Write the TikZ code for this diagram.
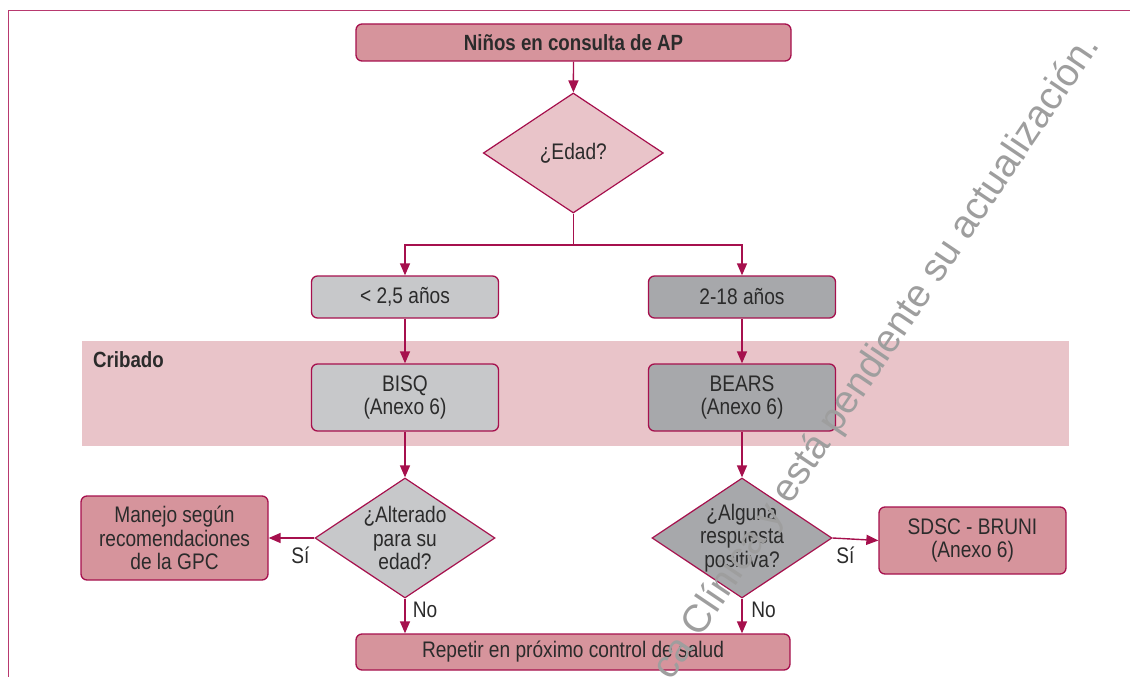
\documentclass[tikz,border=0pt]{standalone}
\usepackage{fontspec}
\setmainfont{Liberation Sans}[FakeStretch=0.85]
\newfontfamily\wmfont{Liberation Sans}
\usetikzlibrary{shapes.geometric,arrows.meta}
\definecolor{crim}{HTML}{A6104D}
\definecolor{framec}{HTML}{B8396F}
\definecolor{pinkbox}{HTML}{D6949C}
\definecolor{pinklight}{HTML}{E9C4C9}
\definecolor{graylight}{HTML}{C7C8CA}
\definecolor{graydark}{HTML}{A7A8AB}
\definecolor{txt}{HTML}{2B2B2B}
\definecolor{wmgray}{HTML}{9E9E9E}
\tikzset{
  box/.style={draw=crim, line width=1.3pt, rounded corners=6pt, minimum width=187pt,
    align=center, inner sep=0pt, text=txt},
  dia/.style={diamond, draw=crim, line width=1.2pt, minimum width=180pt,
    minimum height=120pt, inner sep=0pt},
  conn/.style={draw=crim, line width=1.4pt},
  arr/.style={conn, -{Triangle[length=12pt,width=10pt]}},
  lbl/.style={text=txt, inner sep=0pt},
  dtext/.style={align=center, text=txt, inner sep=0pt},
}
\begin{document}
\begin{tikzpicture}[x=1pt, y=-1pt, font=\fontsize{22.5}{23.5}\selectfont]
\useasboundingbox (0,0) rectangle (1130,677);
% frame
\draw[framec, line width=1pt] (8.5,677) -- (8.5,11) -- (1130,11);
% band
\node[fill=pinklight, minimum width=987pt, minimum height=104.5pt, inner sep=0pt,
  anchor=north west] (band) at (82,341) {};
\node[lbl, anchor=base west, font=\fontsize{22}{23.5}\selectfont\bfseries] (crib) at (93,367) {Cribado};
% nodes
\node[box, fill=pinkbox, minimum width=435pt, minimum height=37pt,
  font=\fontsize{22}{23.5}\selectfont\bfseries] (start) at (573.5,42.5) {Niños en consulta de AP};
\node[dia, fill=pinklight] (edad) at (573.3,153) {};
\node[dtext] (edadt) at (edad.center) {¿Edad?};
\node[box, fill=graylight, minimum height=42pt] (young) at (405,297) {< 2,5 años};
\node[box, fill=graydark, minimum height=42pt] (old) at (742,297) {2-18 años};
\node[box, fill=graylight, minimum height=67pt] (bisq) at (405,397.5) {BISQ\\(Anexo 6)};
\node[box, fill=graydark, minimum height=67pt] (bears) at (742,397.5) {BEARS\\(Anexo 6)};
\node[dia, fill=graylight] (alt) at (405,538) {};
\node[dtext] (altt) at (alt.center) {¿Alterado\\para su\\edad?};
\node[dia, fill=graydark] (pos) at (742,538) {};
\node[dtext] (post) at (pos.center) {¿Alguna\\respuesta\\positiva?};
\node[box, fill=pinkbox, minimum height=84pt] (manejo) at (174.5,538) {Manejo según\\recomendaciones\\de la GPC};
\node[box, fill=pinkbox, minimum height=67pt] (sdsc) at (972.5,540.5) {SDSC - BRUNI\\(Anexo 6)};
\node[box, fill=pinkbox, minimum width=434pt, minimum height=36pt] (rep) at (573,652) {Repetir en próximo control de salud};
% connectors
\coordinate (br) at (573.3,245);
\draw[arr] (start) -- (edad);
\draw[conn] (edad.south) -- (br);
\draw[arr] (br) -| (young.north);
\draw[arr] (br) -| (old.north);
\draw[arr] (young) -- (bisq);
\draw[arr] (old) -- (bears);
\draw[arr] (bisq) -- (alt);
\draw[arr] (bears) -- (pos);
\draw[arr] (alt.west) -- (manejo.east);
\draw[arr] (pos.east) -- (sdsc.west);
\draw[arr] (alt.south) -- (alt.south |- rep.north);
\draw[arr] (pos.south) -- (pos.south |- rep.north);
% labels
\node[lbl] (si1) at (300.5,555) {Sí};
\node[lbl] (si2) at (845.5,555) {Sí};
\node[lbl] (no1) at (425,610) {No};
\node[lbl] (no2) at (763.5,610) {No};
% watermark
\begin{scope}
\clip (0,0) rectangle (1130,677);
\node[text=wmgray, rotate=56, anchor=base east, inner sep=0pt,
  font=\wmfont\fontsize{39}{41}\selectfont] (wm) at (1101,45) {ca Clínica y está pendiente su actualización.};
\end{scope}
\end{tikzpicture}
\end{document}
